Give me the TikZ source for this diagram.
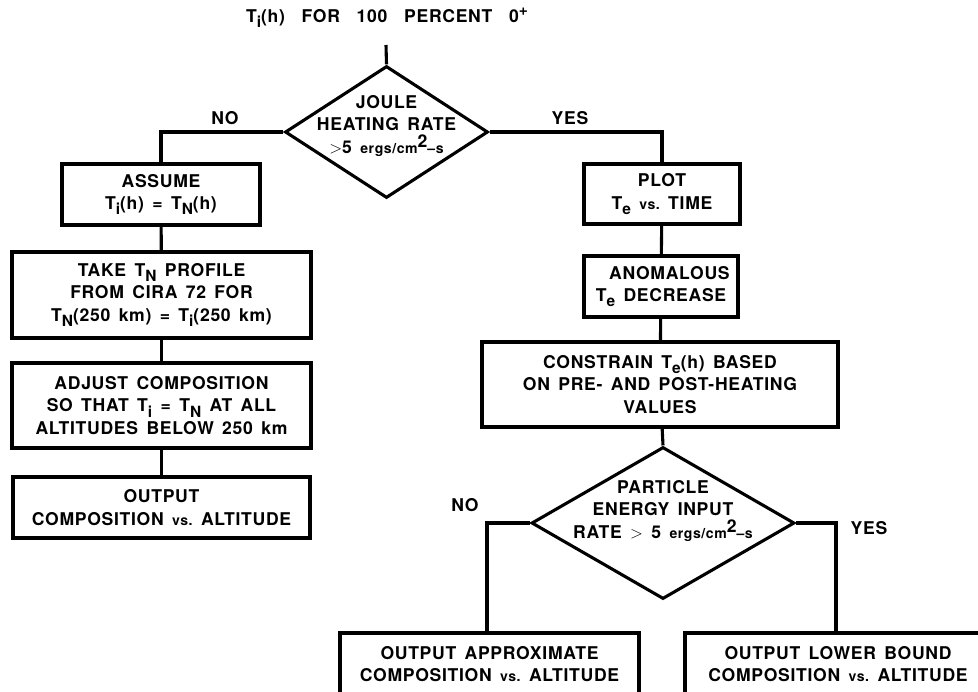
\documentclass[tikz,border=0pt]{standalone}
\usepackage{fontspec}
\setmainfont{TeX Gyre Heros}[LetterSpace=4, WordSpace=1.5]
\usepackage{tikz}
\usetikzlibrary{shapes.geometric}
% lowered / raised small letters
\newcommand{\dn}[1]{\raisebox{-0.55ex}{\fontsize{11}{10}\selectfont #1}}
\newcommand{\up}[1]{\raisebox{0.75ex}{\fontsize{11}{10}\selectfont #1}}
\newcommand{\ergs}{{\fontsize{10}{12}\selectfont ergs/cm\up{\fontsize{12.5}{12}\selectfont 2}--s}}
\newcommand{\vs}{{\fontsize{10}{12}\selectfont vs.}}

\tikzset{
    every node/.style={font=\fontsize{12.5}{16}\selectfont\bfseries},
    flowbox/.style={draw, line width=2.2pt, rectangle, inner sep=0pt, align=center},
    decide/.style={draw, line width=2.2pt, diamond, inner sep=0pt},
    boxsize/.style 2 args={minimum width=#1*0.025cm, minimum height=#2*0.025cm},
    link/.style={line width=2.2pt},
}

\begin{document}
\begin{tikzpicture}[x=0.025cm, y=-0.025cm]
    \clip (0,0) rectangle (978,691);
    % Title and first decision
    \node (title) at (387,18) {T\dn{i}(h) \ FOR \ 100 \ PERCENT \ 0\up{+}};
    \coordinate (start) at (386,45);
    \node[decide, boxsize={203}{132},
          label={[align=center, yshift=0.15cm]center:JOULE\\HEATING RATE\\$>$5 \ergs}]
          (joule) at (386.5,132) {};
    % Left branch
    \node[flowbox, boxsize={198}{61}] (assume) at (161,194.5)
        {ASSUME\\T\dn{i}(h) = T\dn{N}(h)};
    \node[flowbox, boxsize={299}{86}] (takeTN) at (161.5,295)
        {TAKE T\dn{N} PROFILE\\FROM CIRA 72 FOR\\T\dn{N}(250 km) = T\dn{i}(250 km)};
    \node[flowbox, boxsize={299}{85}] (adjust) at (161.5,405.5)
        {ADJUST COMPOSITION\\SO THAT T\dn{i} = T\dn{N} AT ALL\\ALTITUDES BELOW 250 km};
    \node[flowbox, boxsize={297}{61}] (outcomp) at (161.5,507.5)
        {OUTPUT\\COMPOSITION \vs\ ALTITUDE};
    % Right branch
    \node[flowbox, boxsize={156}{60}] (plot) at (662,194)
        {PLOT\\T\dn{e} \vs\ TIME};
    \node[flowbox, boxsize={154}{61}] (anomal) at (661,286.5)
        {\ \ ANOMALOUS\\T\dn{e} DECREASE};
    \node[flowbox, boxsize={356}{85}] (constrain) at (660,384.5)
        {CONSTRAIN T\dn{e}(h) BASED\\ON PRE- AND POST-HEATING\\VALUES};
    \node[decide, boxsize={263}{152},
          label={[align=center, yshift=0.3cm]center:PARTICLE\\ENERGY INPUT\\RATE $>$ 5 \ergs}]
          (particle) at (663,523) {};
    \node[flowbox, boxsize={299}{62}] (outapprox) at (489.5,664)
        {OUTPUT APPROXIMATE\\COMPOSITION \vs\ ALTITUDE};
    \node[flowbox, boxsize={306}{62}] (outlower) at (838,664)
        {OUTPUT LOWER BOUND\\COMPOSITION \vs\ ALTITUDE};
    % Branch labels
    \node (no1) at (225,118) {NO};
    \node (yes1) at (570,118) {YES};
    \node (no2) at (465,505) {NO};
    \node (yes2) at (869,528) {YES};
    % Connectors
    \draw[link] (start) -- (joule.north);
    \draw[link] (joule.west) -| (assume.north);
    \draw[link] (joule.east) -| (plot.north);
    \draw[link] (assume) -- (takeTN);
    \draw[link] (takeTN) -- (adjust);
    \draw[link] (adjust) -- (outcomp);
    \draw[link] (plot) -- (anomal);
    \draw[link] (anomal) -- (constrain);
    \draw[link] (constrain) -- (particle.north);
    \draw[link] (particle.west) -| ([xshift=-2.5*0.025cm]outapprox.north);
    \draw[link] (particle.east) -| ([xshift=-2*0.025cm]outlower.north);
\end{tikzpicture}
\end{document}
